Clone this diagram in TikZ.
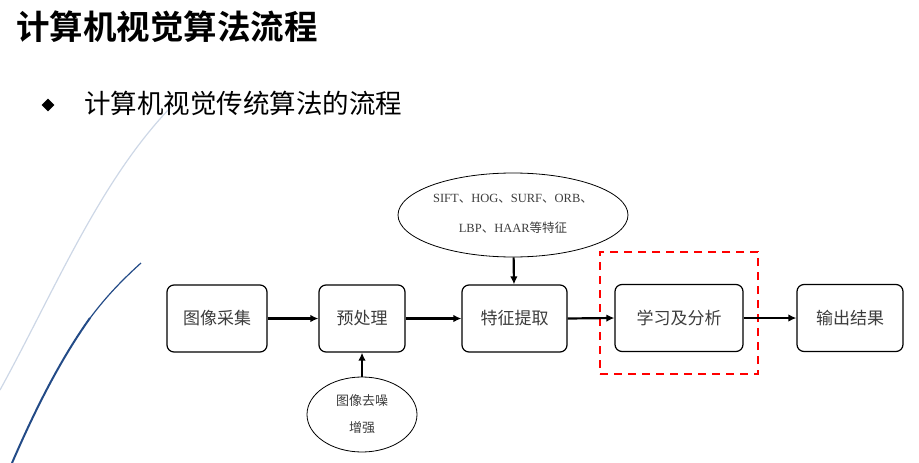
\documentclass[tikz,border=0pt]{standalone}
\usepackage{fontspec}
\setmainfont{Liberation Serif}
\newfontfamily\cjk{Noto Sans CJK SC}
\newfontfamily\cjkb{Noto Sans CJK SC Bold}
\usetikzlibrary{arrows.meta,shapes.geometric}
\definecolor{txtgray}{RGB}{60,60,60}
\definecolor{lightarc}{RGB}{205,215,230}
\definecolor{darkarc}{RGB}{35,75,135}
\tikzset{
  x=1pt,y=-1pt,
  stepbox/.style={draw=black,line width=1.2pt,rounded corners=7pt,minimum height=67pt,inner sep=0pt,font=\cjk\fontsize{17}{17}\selectfont,text=txtgray},
  ell/.style={draw=black,ellipse,line width=0.8pt,inner sep=0pt},
  elltext/.style={inner sep=0pt,align=center,text=txtgray},
  flow/.style={line width=2.2pt,-{Latex[length=8pt,width=7.5pt]}}
}
\begin{document}
\begin{tikzpicture}
\useasboundingbox (0,0) rectangle (919,463);
% decorative arcs
\draw[lightarc,line width=1.2pt] (0,390) .. controls (55,290) and (100,180) .. (172,106);
\draw[darkarc,line width=2pt] (12,463) .. controls (35,410) and (60,360) .. (90,318);
\draw[darkarc,line width=1.2pt] (89,319.5) .. controls (105,298) and (120,282) .. (141,263);
% titles
\node[anchor=west,font=\cjkb\fontsize{33.5}{33.5}\selectfont,inner sep=0pt] (title) at (16,27) {计算机视觉算法流程};
\node[diamond,fill=black,minimum width=13pt,minimum height=13pt,inner sep=0pt] (bullet) at (48,105) {};
\node[anchor=west,font=\cjk\fontsize{26.5}{26.5}\selectfont,inner sep=0pt] (sub) at (84,103) {计算机视觉传统算法的流程};
% boxes
\node[stepbox,minimum width=100pt] (acq) at (217,318.5) {图像采集};
\node[stepbox,minimum width=86pt] (pre) at (362,318.5) {预处理};
\node[stepbox,minimum width=105pt] (feat) at (514.5,318.5) {特征提取};
\node[stepbox,minimum width=128pt] (learn) at (679,318) {学习及分析};
\node[stepbox,minimum width=106pt] (out) at (850,318) {输出结果};
% red dashed frame
\node[draw=red,line width=2pt,dash pattern=on 8pt off 6pt,minimum width=158pt,minimum height=122pt,inner sep=0pt] (frame) at (679,313) {};
% ellipses
\node[ell,minimum width=230pt,minimum height=84pt] (fe) at (513,215) {};
\node[elltext,font=\fontsize{12.5}{30}\selectfont] (fetext) at ([yshift=1.5pt]fe.center) {SIFT{\cjk 、}HOG{\cjk 、}SURF{\cjk 、}ORB{\cjk 、}\\LBP{\cjk 、}HAAR{\cjk 等特征}};
\node[ell,minimum width=110pt,minimum height=75pt] (den) at (362,414.5) {};
\node[elltext,font=\cjk\fontsize{13}{27}\selectfont] (dentext) at (den.center) {图像去噪\\增强};
% arrows
\draw[flow] (acq) -- (pre);
\draw[flow] (pre) -- (feat);
\draw[flow] (feat.east) -- (learn.west);
\draw[flow] (learn.east) -- (out.west);
\draw[flow] (fe) -- (feat);
\draw[flow] (den) -- (pre);
\end{tikzpicture}
\end{document}
